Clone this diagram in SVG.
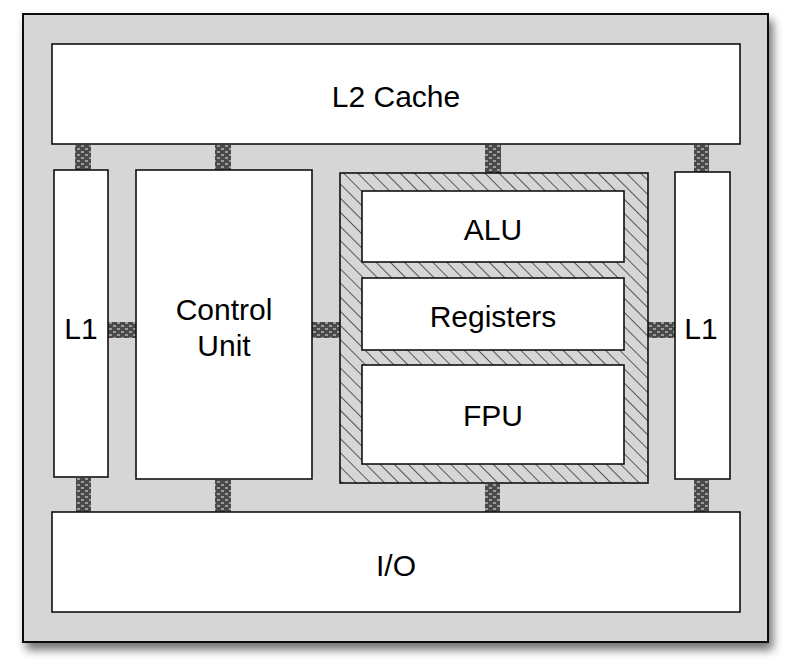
<svg xmlns="http://www.w3.org/2000/svg" width="790" height="672" viewBox="0 0 790 672">
<defs>
<filter id="sh" x="-5%" y="-5%" width="115%" height="115%">
<feDropShadow dx="4" dy="7" stdDeviation="5" flood-color="#000" flood-opacity="0.55"/>
</filter>
<pattern id="hatch" patternUnits="userSpaceOnUse" width="10" height="10" patternTransform="rotate(-45)">
<rect width="10" height="10" fill="#d6d6d6"/>
<line x1="0" y1="0" x2="0" y2="10" stroke="#111" stroke-width="1.3"/>
</pattern>
<pattern id="wire" patternUnits="userSpaceOnUse" width="8" height="6">
<rect width="8" height="6" fill="#4a4a4a"/>
<rect x="1" y="1" width="3" height="2" fill="#9a9a9a"/>
<rect x="5" y="4" width="3" height="2" fill="#9a9a9a"/>
</pattern>
<style>
.box{fill:#fff;stroke:#111;stroke-width:1.6}
.lbl{font-family:"Liberation Sans",Arial,sans-serif;font-size:30px;fill:#000;text-anchor:middle}
.w{fill:url(#wire)}
</style>
</defs>
<rect width="790" height="672" fill="#fff"/>
<rect id="frame" x="23" y="14" width="745" height="628" fill="#d6d6d6" stroke="#111" stroke-width="2" filter="url(#sh)"/>
<g id="connectors">
<rect class="w" x="75" y="145" width="16" height="25"/>
<rect class="w" x="215" y="145" width="16" height="25"/>
<rect class="w" x="485" y="145" width="16" height="28"/>
<rect class="w" x="694" y="145" width="15" height="27"/>
<rect class="w" x="76" y="478" width="15" height="34"/>
<rect class="w" x="215" y="480" width="16" height="32"/>
<rect class="w" x="485" y="484" width="15" height="28"/>
<rect class="w" x="694" y="480" width="15" height="32"/>
<rect class="w" x="108" y="322" width="28" height="16"/>
<rect class="w" x="312" y="322" width="28" height="16"/>
<rect class="w" x="648" y="322" width="27" height="16"/>
</g>
<g id="l2"><rect class="box" x="52" y="44" width="688" height="100"/><text class="lbl" x="396" y="107">L2 Cache</text></g>
<g id="l1left"><rect class="box" x="54" y="170" width="54" height="307"/><text class="lbl" x="81" y="339">L1</text></g>
<g id="control"><rect class="box" x="136" y="170" width="176" height="309"/><text class="lbl" x="224" y="320">Control</text><text class="lbl" x="224" y="356">Unit</text></g>
<g id="core"><rect x="340" y="173" width="308" height="310" fill="url(#hatch)" stroke="#111" stroke-width="1.6"/></g>
<g id="alu"><rect class="box" x="362" y="191" width="262" height="71"/><text class="lbl" x="493" y="240">ALU</text></g>
<g id="registers"><rect class="box" x="362" y="278" width="262" height="72"/><text class="lbl" x="493" y="327">Registers</text></g>
<g id="fpu"><rect class="box" x="362" y="365" width="262" height="99"/><text class="lbl" x="493" y="426">FPU</text></g>
<g id="l1right"><rect class="box" x="675" y="172" width="55" height="307"/><text class="lbl" x="701" y="339">L1</text></g>
<g id="io"><rect class="box" x="52" y="512" width="688" height="100"/><text class="lbl" x="396" y="576">I/O</text></g>
</svg>
